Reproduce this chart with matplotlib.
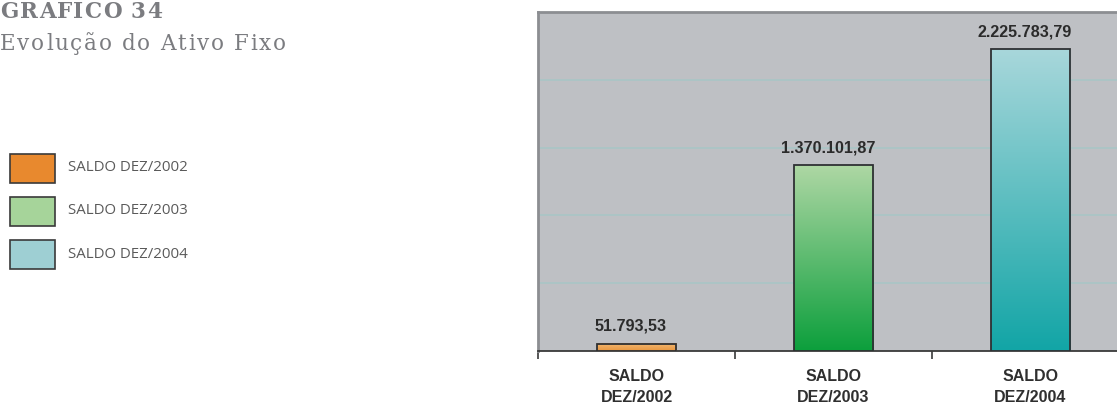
import matplotlib
matplotlib.use("Agg")
import matplotlib.pyplot as plt
import numpy as np
from matplotlib.colors import LinearSegmentedColormap
from matplotlib.patches import Rectangle

# --- data -------------------------------------------------------------
categories = ["SALDO\nDEZ/2002", "SALDO\nDEZ/2003", "SALDO\nDEZ/2004"]
legend_labels = ["SALDO DEZ/2002", "SALDO DEZ/2003", "SALDO DEZ/2004"]
values = [51793.53, 1370101.87, 2225783.79]
value_labels = ["51.793,53", "1.370.101,87", "2.225.783,79"]

# gradient end colours (top, bottom) per bar and flat legend colours
grad_top = ["#f3b872", "#aed7a4", "#a8d7db"]
grad_bottom = ["#e8963f", "#0c9f3c", "#12a5a6"]
legend_colors = ["#e8892e", "#a6d49a", "#9ecfd3"]

W, H = 1117, 406
fig = plt.figure(figsize=(W / 100, H / 100), dpi=100)
fig.patch.set_facecolor("white")
renderer = fig.canvas.get_renderer()


def tracked_text(x_px, y_px, s, tracking_px, **kw):
    """Draw a string character by character with extra letter spacing."""
    cur = x_px
    for ch in s:
        t = fig.text(cur / W, 1 - y_px / H, ch, ha="left", va="baseline", **kw)
        w = t.get_window_extent(renderer).width
        if ch == " ":
            w = t.get_fontsize() * 100 / 72 * 0.32
        cur += w + tracking_px


# --- plot area ---------------------------------------------------------
left_px, right_px, top_px, base_px = 538, 1129, 13, 352
ax = fig.add_axes([left_px / W, (H - base_px) / H,
                   (right_px - left_px) / W, (base_px - top_px) / H])
ax.set_facecolor("#bec0c4")

for y in np.arange(500000, 2500000, 500000):
    ax.axhline(y, color="#a9c6c6", lw=1.2, zorder=1)

x = np.arange(len(values))
bars = ax.bar(x, values, width=0.405, facecolor="none",
              edgecolor="#2e3033", linewidth=1.3, zorder=4)

for bar, ct, cb in zip(bars, grad_top, grad_bottom):
    x0, y0 = bar.get_x(), bar.get_y()
    w, h = bar.get_width(), bar.get_height()
    cmap = LinearSegmentedColormap.from_list("g", [cb, ct])
    grad = np.linspace(0, 1, 256).reshape(-1, 1)
    ax.imshow(grad, cmap=cmap, origin="lower", aspect="auto",
              extent=(x0, x0 + w, y0, y0 + h), zorder=3,
              interpolation="bilinear")

for xi, v, lab in zip(x, values, value_labels):
    ax.annotate(lab, (xi, v), xytext=(-4, 8), textcoords="offset points",
                ha="center", va="bottom", fontsize=11.6, fontweight="bold",
                family="Liberation Sans", color="#2b2b2b", zorder=5)

ax.set_xlim(-0.5, 2.5)
ax.set_ylim(0, 2500000)

ax.set_yticks([])
ax.set_xticks([-0.5, 0.5, 1.5, 2.5])
ax.set_xticklabels([])
ax.tick_params(axis="x", direction="out", length=6, width=1.2,
               color="#3a3a3a")
for xi, cat in zip(x, categories):
    ax.text(xi, -0.05, cat, transform=ax.get_xaxis_transform(),
            ha="center", va="top", fontsize=11.5, fontweight="bold",
            family="Liberation Sans", color="#2f2f2f", linespacing=1.5)

ax.spines["bottom"].set_color("#3a3a3a")
ax.spines["bottom"].set_linewidth(1.3)
for s in ("left", "top", "right"):
    ax.spines[s].set_color("#8c8e92")
    ax.spines[s].set_linewidth(2)

# --- title -------------------------------------------------------------
tracked_text(0, 18, "GRAFICO 34", 1.2, fontsize=15.5, fontweight="bold",
             family="DejaVu Serif", color="#7b7c80")
tracked_text(0, 50, "Evolução do Ativo Fixo", 1.7, fontsize=15.5,
             family="DejaVu Serif", color="#7b7c80")

# --- legend ------------------------------------------------------------
legend_tops = [155, 198, 241]
for top, lab, col in zip(legend_tops, legend_labels, legend_colors):
    fig.patches.append(Rectangle((10 / W, 1 - (top + 29) / H), 45 / W,
                                 29 / H, transform=fig.transFigure,
                                 facecolor=col, edgecolor="#3a3a3a",
                                 linewidth=1.2))
    fig.text(68 / W, 1 - (top + 13) / H, lab, ha="left", va="center",
             fontsize=10.8, family="Open Sans", color="#5a5a5a")

fig.savefig("out.png", dpi=100)
